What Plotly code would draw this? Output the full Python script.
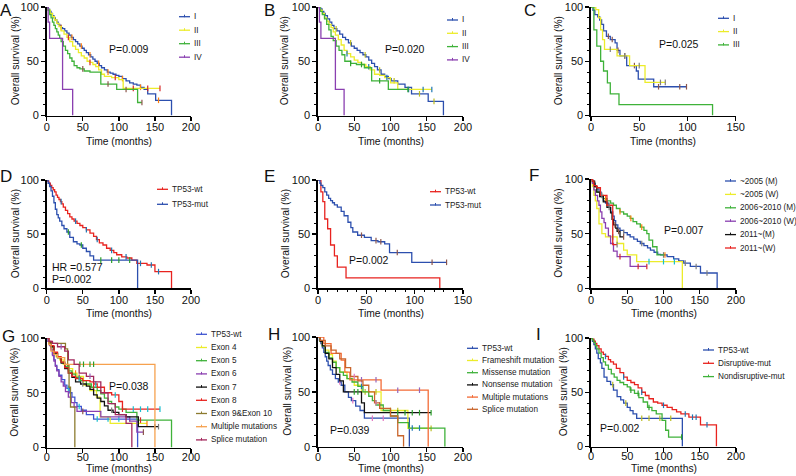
import plotly.graph_objects as go

W, H = 796, 476

# ---------------- DATA (times in months, survival in %) ----------------
# Panel A (stage)
A_I_t = [2,4,6,8,10,12,14,16,18,20,22,25,28,31,34,37,40,43,46,49,52,55,58,61,64,67,70,73,76,80,84,88,92,96,100,105,110,115,120,125,130,135,140,151,173]
A_I_s = [98,96,94,92,90,88,86,84,83,81,80,78,76,74,72,70,68,66,64,62,60,58,56,54,52,50,48,46,44,42,40,39,38,37,36,34,32,30,29,28,26,24,20,14,0]
A_I_c = [20,35,48,60,72,85,105,130,155]
A_II_t = [2,5,8,11,14,17,20,24,28,32,36,40,44,48,52,56,60,64,68,72,76,80,90,100,106]
A_II_s = [97,94,91,88,85,82,78,75,72,68,64,61,58,55,53,50,49,47,45,42,38,36,35,33,25]
A_II_c = [30,60,95,120,140,157]
A_III_t = [2,4,6,8,10,12,14,16,18,20,23,26,29,32,35,38,42,46,52,60,75,97,126]
A_III_s = [97,93,90,86,83,80,77,74,71,68,64,60,57,53,50,46,44,43,41,40,29,24,12]
A_III_c = [50,85,110,132]
A_IV_t = [2,4,22,36]
A_IV_s = [86,71,24,0]
A_IV_c = []

# Panel B
B_I_t = [2,4,6,8,10,13,16,19,22,26,30,34,38,42,46,50,54,58,62,66,70,74,78,82,87,92,97,101,110,120,129,152,173]
B_I_s = [99,98,96,94,92,89,86,83,80,78,75,72,70,67,64,62,60,58,56,54,51,48,45,42,38,36,34,32,29,26,20,13,0]
B_I_c = [25,45,65,85,105,140,160]
B_II_t = [3,6,9,12,15,18,21,24,28,32,36,40,45,50,55,60,66,72,78,85,92,100,110]
B_II_s = [97,94,90,87,84,81,77,74,70,65,60,57,54,51,49,47,45,42,38,37,35,30,24]
B_II_c = [40,70,95,125,145,157]
B_III_t = [3,6,9,12,15,18,21,25,29,33,37,45,53,64,74,97]
B_III_s = [96,93,89,84,79,73,69,64,60,56,50,48,47,44,32,24]
B_III_c = [45,60,85,124]
B_IV_t = [2,4,24,36]
B_IV_s = [86,71,24,0]
B_IV_c = []

# Panel C
C_I_t = [2,4,7,9,11,13,16,20,25,27,30,37,47,49,65]
C_I_s = [97,93,91,88,84,78,73,70,67,60,55,46,41,33.5,26.5]
C_I_c = [18,22,28,35,45,70,92,99]
C_II_t = [5,8,10,12,14,27,40,56]
C_II_s = [97.5,90,79,70,61,55,46,30.5]
C_II_c = [20,35,50,72,77]
C_III_t = [3,6,10,13,17,20,29,126]
C_III_s = [79,64,50,41,30,20,10,0]
C_III_c = []

# Panel D
D_wt_t = [1,3,5,7,9,11,13,15,17,19,21,23,26,29,32,35,38,42,46,50,55,60,65,69,73,78,83,88,93,97,104,111,118,125,139,150,173]
D_wt_s = [99,97,95,93,91,89,86,84,82,80,78,75,72,69,66,64,62,60,58,56,54,51,48,45,42,40,37,35,33,31,29,28,26,23,21.5,15.4,0]
D_wt_c = [20,40,55,70,90,110,130,145,155]
D_mut_t = [2,4,6,8,10,12,14,16,18,21,24,28,32,37,42,46,50,55,60,65,126]
D_mut_s = [97,94,90,85,79,73,68,65,62,58,55,52,47,43,41,40,37,34,30,26,0]
D_mut_c = [30,48,75,90,100,115]

# Panel E
E_wt_t = [3,5,7,10,13,17,20,29,126]
E_wt_s = [89,80,64,55,40,30,19.5,9.6,0]
E_wt_c = []
E_mut_t = [2,3,5,7,9,11,13,15,17,20,24,27,31,34,36,41,48,55,62,69,74,97]
E_mut_s = [97,95,93,89,86,83,81,79,77,75,71,67,61,56,52,49,47,44,43,41,33,24]
E_mut_c = [45,60,65,82,118,133]

# Panel F
F_05M_t = [2,4,6,8,11,14,17,20,24,27,30,32,34,37,40,45,50,54,59,64,68,73,78,82,87,92,96,105,114,121,128,137,151,174]
F_05M_s = [98,96,93,91,88,84,80,78,74,70,66,62,58,55,53,51,49,47,45,43,41,39,37,35,33,31,30.5,29,27,25,23,20,14,0]
F_05M_c = [25,45,70,100,130,145,160]
F_05W_t = [2,4,6,8,11,15,20,36,45,50,63,126]
F_05W_s = [93,85,80,73,59,50,47,41,35,30.5,24.4,0]
F_05W_c = [30,80,100,115]
F_10M_t = [2,5,8,12,17,22,27,31,35,40,45,50,54,58,63,68,73,77,80,85,91]
F_10M_s = [97,93,88,85,82,80,78,76,73,70,68,66,64,61,59,56,53,50,44,38,30.5]
F_10M_c = [20,40,55,70,102]
F_10W_t = [2,4,6,9,11,13,15,18,20,24,27,31,36,54]
F_10W_s = [96,90,85,80,76,70,64,60,55,48,41,34,29,20]
F_10W_c = [40,65,77]
F_11M_t = [2,5,8,12,17,22,27,29,31,34,36,40]
F_11M_s = [98,93,88,84,79,74,69,63,58,55,52,47]
F_11M_c = [33,38,45]
F_11W_t = [2,4,8,13,22,30]
F_11W_s = [98,94,92,85,76,40]
F_11W_c = [15,25,36]

# Panel G
G_wt_t = [2,4,6,8,10,12,14,17,21,25,28,32,35,39,42,48,55,65,126]
G_wt_s = [97,94,90,85,80,75,71,66,62,57,54,50,46,41,37.5,34,30,26,0]
G_wt_c = [30,45,70,85,100,115]
G_e4_t = [3,6,9,13,18,23,30,36,42,51,60,69,74,88]
G_e4_s = [96,92,86,83,80,76,72,68,65,57,52,46,28,22]
G_e4_c = [40,139]
G_e5_t = [3,6,10,15,20,25,30,35,40,47,55,62,70,75,80,85,90,95,100,110,125,173]
G_e5_s = [96,92,86,82,78,74,70,67,64,61,58,55,52,49,45,42,40,37,35,32,25,0]
G_e5_c = [45,65,105,130]
G_e6_t = [2,4,6,8,10,12,14,17,20,23,26,30,34,38,42,75,115,125]
G_e6_s = [97,93,89,84,79,74,70,65,60,56,51,46,41,37,33,28,24,14]
G_e6_c = [50,134]
G_e7_t = [3,6,10,15,20,25,30,35,40,47,55,60,65,70,75,80,85,92,100,110,127]
G_e7_s = [96,92,86,82,77,72,68,64,60,58,56,53,48,45,42,38,34,32,30,28,19]
G_e7_c = [50,90,150,155]
G_e8_t = [3,6,10,15,20,25,30,35,40,50,60,65,70,80,90,100,105]
G_e8_s = [97,93,87,83,78,73,68,65,63,61,60,58,55,50,48,42,35]
G_e8_c = [45,68,95,120,130,140,157]
G_e910_t = [3,26,29,31,33,39]
G_e910_s = [95,90,75,55,37,0]
G_e910_c = []
G_mult_t = [3,6,10,15,25,150]
G_mult_s = [94,88,85,82,76,0]
G_mult_c = [46,51,60,65]
G_spl_t = [3,8,15,25,30,38,45,55,65,75,85,95,110,118]
G_spl_s = [97,95,92,88,80,76,68,65,60,50,40,30,22,0]
G_spl_c = [20,60]

# Panel H
H_wt_t = [2,4,6,8,10,12,14,17,20,24,28,32,37,42,46,52,58,64,126]
H_wt_s = [97,94,90,86,82,78,74,70,66,62,59,56,50,45,42,37,33,26,0]
H_wt_c = [30,48,75,90,110]
H_fs_t = [3,6,10,15,20,25,30,40,50,60,87,124]
H_fs_s = [96,92,88,84,78,72,68,62,56,50,33,16.7]
H_fs_c = [65,80,100,110,156]
H_ms_t = [3,6,10,15,20,25,30,35,40,47,55,62,70,75,80,90,100,110,125,175]
H_ms_s = [96,92,86,81,77,72,68,65,62,59,55,50,46,42,38,33,28,22,17,0]
H_ms_c = [60,85,130,140]
H_ns_t = [3,6,10,15,20,25,30,35,60,64]
H_ns_s = [96,92,85,80,72,66,60,50,40,31]
H_ns_c = [50,55,110,120,130,140,156]
H_mu_t = [8,18,32,37,44,87,152]
H_mu_s = [94,85,79,68,61,51.5,0]
H_mu_c = [60,80,110,140]
H_sp_t = [3,10,18,25,30,38,45,55,62,70,78,85,100,110,118]
H_sp_s = [97,92,88,85,80,72,64,60,56,50,40,35,28,10,0]
H_sp_c = [50,80]

# Panel I
I_wt_t = [2,4,6,8,10,13,15,18,22,27,31,36,41,45,50,54,58,63,126]
I_wt_s = [97,94,90,86,81,77,72,64,60,57,52,46,43,40,36,33,30,26,0]
I_wt_c = [30,48,70,80,95,110]
I_dis_t = [2,4,6,8,11,14,17,20,24,27,31,35,40,45,50,55,60,65,70,75,80,86,92,98,105,112,118,124,135,151,173]
I_dis_s = [99,97,95,93,90,87,85,83,80,78,76,72,68,64,61,59,57,54,50,47,44,41,40,38,36,34,32,30,27,20,0]
I_dis_c = [20,45,70,100,130,140,145,160]
I_non_t = [2,4,6,8,11,14,17,20,24,28,32,36,40,45,50,54,60,66,72,78,84,90,98,103,107]
I_non_s = [98,96,93,90,86,82,78,75,71,67,64,61,59,57,55,52,49,45,41,36,33,30,24,15,8.7]
I_non_c = [55,65,80,125]

# ---------------- STYLE ----------------
BLUE = "#2c4fae"; YELLOW = "#ecec2a"; GREEN = "#3fb23a"; PURPLE = "#8a3fb0"
RED = "#e8231f"; BLACK = "#111111"; OLIVE = "#8c7b2f"; ORANGE_G = "#f6a14e"
MAROON = "#a3275c"; ORANGE_H = "#f36b36"; BROWN_H = "#c9652c"; BLUE_G = "#3f55d0"
FONT = "Liberation Sans, Arial, Helvetica, sans-serif"

PANELS = [
    dict(L="A", box=(46.7, 191, 7, 115.5), xmax=200, letter=(6, 10), ytx=15, xty=141, xso=-3,
         leg=(179, 16.7, 13.5), ptxt=[(106.7, 49, "P=0.009")],
         curves=[("I", BLUE, A_I_t, A_I_s, A_I_c), ("II", YELLOW, A_II_t, A_II_s, A_II_c),
                 ("III", GREEN, A_III_t, A_III_s, A_III_c), ("IV", PURPLE, A_IV_t, A_IV_s, A_IV_c)]),
    dict(L="B", box=(318, 463, 7, 115.5), xmax=200, letter=(269, 10), ytx=284, xty=141, xso=-3,
         leg=(447, 20, 13.3), ptxt=[(383, 49, "P=0.020")],
         curves=[("I", BLUE, B_I_t, B_I_s, B_I_c), ("II", YELLOW, B_II_t, B_II_s, B_II_c),
                 ("III", GREEN, B_III_t, B_III_s, B_III_c), ("IV", PURPLE, B_IV_t, B_IV_s, B_IV_c)]),
    dict(L="C", box=(591, 735.7, 7, 115.5), xmax=150, letter=(530, 10), ytx=558, xty=141, xso=-3,
         leg=(718, 18.3, 13.3), ptxt=[(656.7, 44, "P=0.025")],
         curves=[("I", BLUE, C_I_t, C_I_s, C_I_c), ("II", YELLOW, C_II_t, C_II_s, C_II_c),
                 ("III", GREEN, C_III_t, C_III_s, C_III_c)]),
    dict(L="D", box=(46.7, 191, 180, 288.3), xmax=200, letter=(6, 176), ytx=15, xty=313, xso=-3,
         leg=(157, 189.3, 15), ptxt=[(50, 267, "HR =0.577"), (50, 279, "P=0.002")],
         curves=[("TP53-wt", RED, D_wt_t, D_wt_s, D_wt_c), ("TP53-mut", BLUE, D_mut_t, D_mut_s, D_mut_c)]),
    dict(L="E", box=(318, 463, 180, 288.3), xmax=150, letter=(269, 176), ytx=285, xty=313, xso=-3,
         leg=(430, 191.7, 13.3), ptxt=[(346.7, 260, "P=0.002")], xminor=True,
         curves=[("TP53-wt", RED, E_wt_t, E_wt_s, E_wt_c), ("TP53-mut", BLUE, E_mut_t, E_mut_s, E_mut_c)]),
    dict(L="F", box=(591, 736, 179, 288.3), xmax=200, letter=(534, 175), ytx=559, xty=313, xso=-3,
         leg=(725, 181, 13.4), ptxt=[(661.7, 230, "P=0.007")],
         curves=[("~2005 (M)", BLUE, F_05M_t, F_05M_s, F_05M_c), ("~2005 (W)", YELLOW, F_05W_t, F_05W_s, F_05W_c),
                 ("2006~2010 (M)", GREEN, F_10M_t, F_10M_s, F_10M_c), ("2006~2010 (W)", PURPLE, F_10W_t, F_10W_s, F_10W_c),
                 ("2011~(M)", BLACK, F_11M_t, F_11M_s, F_11M_c), ("2011~(W)", RED, F_11W_t, F_11W_s, F_11W_c)]),
    dict(L="G", box=(46.7, 191, 338, 447.5), xmax=200, letter=(8, 336), ytx=15, xty=468, xso=-5,
         leg=(196, 334.3, 13.2), ptxt=[(106.7, 386, "P=0.038")],
         curves=[("TP53-wt", BLUE_G, G_wt_t, G_wt_s, G_wt_c), ("Exon 4", YELLOW, G_e4_t, G_e4_s, G_e4_c),
                 ("Exon 5", GREEN, G_e5_t, G_e5_s, G_e5_c), ("Exon 6", PURPLE, G_e6_t, G_e6_s, G_e6_c),
                 ("Exon 7", BLACK, G_e7_t, G_e7_s, G_e7_c), ("Exon 8", RED, G_e8_t, G_e8_s, G_e8_c),
                 ("Exon 9&Exon 10", OLIVE, G_e910_t, G_e910_s, G_e910_c),
                 ("Multiple mutations", ORANGE_G, G_mult_t, G_mult_s, G_mult_c),
                 ("Splice mutation", MAROON, G_spl_t, G_spl_s, G_spl_c)]),
    dict(L="H", box=(318, 463, 337, 446.7), xmax=200, letter=(274, 334), ytx=288, xty=468, xso=-5,
         leg=(467, 348.3, 12.2), ptxt=[(328, 430, "P=0.039")],
         curves=[("TP53-wt", BLUE, H_wt_t, H_wt_s, H_wt_c), ("Frameshift mutation", YELLOW, H_fs_t, H_fs_s, H_fs_c),
                 ("Missense mutation", GREEN, H_ms_t, H_ms_s, H_ms_c), ("Nonsense mutation", BLACK, H_ns_t, H_ns_s, H_ns_c),
                 ("Multiple mutations", ORANGE_H, H_mu_t, H_mu_s, H_mu_c), ("Splice mutation", BROWN_H, H_sp_t, H_sp_s, H_sp_c)]),
    dict(L="I", box=(591, 736, 338, 446.5), xmax=200, letter=(538, 334), ytx=563, xty=468, xso=-5,
         leg=(703, 350, 13.3), ptxt=[(598, 428, "P=0.002")],
         curves=[("TP53-wt", BLUE, I_wt_t, I_wt_s, I_wt_c), ("Disruptive-mut", RED, I_dis_t, I_dis_s, I_dis_c),
                 ("Nondisruptive-mut", GREEN, I_non_t, I_non_s, I_non_c)]),
]


def px(x):
    return x / W


def py(y):
    return 1 - y / H


def step_xy(t, s, c):
    x = [0] + list(t)
    y = [100] + list(s)
    if c and max(c) > x[-1] and y[-1] > 0:
        x.append(max(c))
        y.append(y[-1])
    return x, y


def surv_at(t, s, c):
    v = 100
    for ti, si in zip(t, s):
        if ti <= c:
            v = si
    return v


fig = go.Figure()
shapes = []
annotations = []
layout = {}

for k, p in enumerate(PANELS, start=1):
    xa = "x" if k == 1 else f"x{k}"
    ya = "y" if k == 1 else f"y{k}"
    xkey = "xaxis" if k == 1 else f"xaxis{k}"
    ykey = "yaxis" if k == 1 else f"yaxis{k}"
    x0, x1, y0, y1 = p["box"]
    axis_common = dict(showline=True, linecolor="black", linewidth=1.6, ticks="outside",
                       ticklen=4, tickwidth=1.4, tickcolor="black", showgrid=False, zeroline=False,
                       automargin=False,
                       tickfont=dict(family=FONT, size=11, color="#111"), fixedrange=True)
    xa_d = dict(domain=[px(x0), px(x1)], anchor=ya, range=[0, p["xmax"]], dtick=50, tick0=0,
                ticklabelstandoff=p["xso"], **axis_common)
    if p.get("xminor"):
        xa_d["minor"] = dict(ticks="outside", dtick=10, ticklen=2, tickwidth=1, tickcolor="black")
    layout[xkey] = xa_d
    layout[ykey] = dict(domain=[py(y1), py(y0)], anchor=xa, range=[0, 100], tickvals=[0, 50, 100],
                        minor=dict(ticks="outside", dtick=10, ticklen=2.5, tickwidth=1, tickcolor="black"),
                        **axis_common)

    for name, col, t, s, c in p["curves"]:
        xs, ys = step_xy(t, s, c)
        fig.add_trace(go.Scatter(x=xs, y=ys, mode="lines", line=dict(color=col, width=1.3, shape="hv"),
                                 xaxis=xa, yaxis=ya, showlegend=False, cliponaxis=False, name=name,
                                 hoverinfo="skip"))
        if c:
            fig.add_trace(go.Scatter(x=c, y=[surv_at(t, s, ci) for ci in c], mode="markers",
                                     marker=dict(symbol="line-ns-open", size=4, line=dict(color=col, width=1.2)),
                                     xaxis=xa, yaxis=ya, showlegend=False, cliponaxis=False, hoverinfo="skip"))

    # legend (manual)
    lx, ly, dy = p["leg"]
    for i, (name, col, *_rest) in enumerate(p["curves"]):
        yy = ly + i * dy
        shapes.append(dict(type="line", xref="paper", yref="paper", x0=px(lx), x1=px(lx + 11),
                           y0=py(yy), y1=py(yy), line=dict(color=col, width=1.3)))
        shapes.append(dict(type="line", xref="paper", yref="paper", x0=px(lx + 5.5), x1=px(lx + 5.5),
                           y0=py(yy - 2), y1=py(yy + 0.5), line=dict(color=col, width=1)))
        annotations.append(dict(text=name, x=px(lx + 13), y=py(yy), xref="paper", yref="paper",
                                xanchor="left", yanchor="middle", showarrow=False,
                                font=dict(family=FONT, size=8.2, color="#222")))

    for tx, ty, txt in p["ptxt"]:
        annotations.append(dict(text=txt, x=px(tx), y=py(ty), xref="paper", yref="paper",
                                xanchor="left", yanchor="middle", showarrow=False,
                                font=dict(family=FONT, size=10.5, color="#111")))

    annotations.append(dict(text=p["L"], x=px(p["letter"][0]), y=py(p["letter"][1]), xref="paper",
                            yref="paper", xanchor="center", yanchor="middle", showarrow=False,
                            font=dict(family=FONT, size=17, color="#111")))
    annotations.append(dict(text="Time (months)", x=px((x0 + x1) / 2), y=py(p["xty"]), xref="paper",
                            yref="paper", xanchor="center", yanchor="middle", showarrow=False,
                            font=dict(family=FONT, size=10.3, color="#111")))
    annotations.append(dict(text="Overall survival (%)", x=px(p["ytx"]), y=py((y0 + y1) / 2), xref="paper",
                            yref="paper", xanchor="center", yanchor="middle", showarrow=False, textangle=-90,
                            font=dict(family=FONT, size=10.3, color="#111")))

fig.update_layout(template="none", width=W, height=H, margin=dict(l=0, r=0, t=0, b=0, autoexpand=False),
                  plot_bgcolor="white", paper_bgcolor="white", showlegend=False,
                  shapes=shapes, annotations=annotations, **layout)

fig.write_html("out.html", config={"displayModeBar": False, "staticPlot": True},
               post_script="document.body.style.margin='0px';")
